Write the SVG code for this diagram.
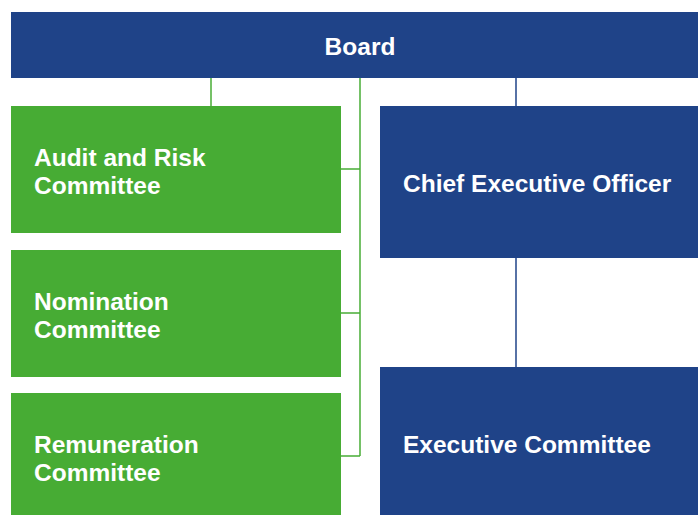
<svg xmlns="http://www.w3.org/2000/svg" width="698" height="515" viewBox="0 0 698 515">
  <style>
    .blue { fill: #1F4388; }
    .green { fill: #47AC34; }
    .label { font-family: "Liberation Sans", Arial, sans-serif; font-weight: bold; font-size: 24.5px; fill: #FFFFFF; }
    .gline { stroke: #47AC34; stroke-width: 1.5; fill: none; }
    .bline { stroke: #1F4388; stroke-width: 1.5; fill: none; }
  </style>
  <rect width="698" height="515" fill="#FFFFFF"/>

  <!-- connectors -->
  <g id="connectors">
    <line class="gline" x1="211" y1="78" x2="211" y2="106"/>
    <line class="gline" x1="360" y1="78" x2="360" y2="456"/>
    <line class="gline" x1="341" y1="169" x2="360" y2="169"/>
    <line class="gline" x1="341" y1="313" x2="360" y2="313"/>
    <line class="gline" x1="341" y1="456" x2="360" y2="456"/>
    <line class="bline" x1="516" y1="78" x2="516" y2="106"/>
    <line class="bline" x1="516" y1="258" x2="516" y2="367"/>
  </g>

  <g id="board">
    <rect class="blue" x="11" y="12" width="687" height="66"/>
    <text class="label" x="360" y="55" text-anchor="middle">Board</text>
  </g>

  <g id="audit-risk">
    <rect class="green" x="11" y="106" width="330" height="127"/>
    <text class="label" x="34" y="166">Audit and Risk</text>
    <text class="label" x="34" y="194">Committee</text>
  </g>

  <g id="nomination">
    <rect class="green" x="11" y="250" width="330" height="127"/>
    <text class="label" x="34" y="310">Nomination</text>
    <text class="label" x="34" y="338">Committee</text>
  </g>

  <g id="remuneration">
    <rect class="green" x="11" y="393" width="330" height="122"/>
    <text class="label" x="34" y="453">Remuneration</text>
    <text class="label" x="34" y="481">Committee</text>
  </g>

  <g id="ceo">
    <rect class="blue" x="380" y="106" width="318" height="152"/>
    <text class="label" x="403" y="192">Chief Executive Officer</text>
  </g>

  <g id="executive-committee">
    <rect class="blue" x="380" y="367" width="318" height="148"/>
    <text class="label" x="403" y="453">Executive Committee</text>
  </g>
</svg>
